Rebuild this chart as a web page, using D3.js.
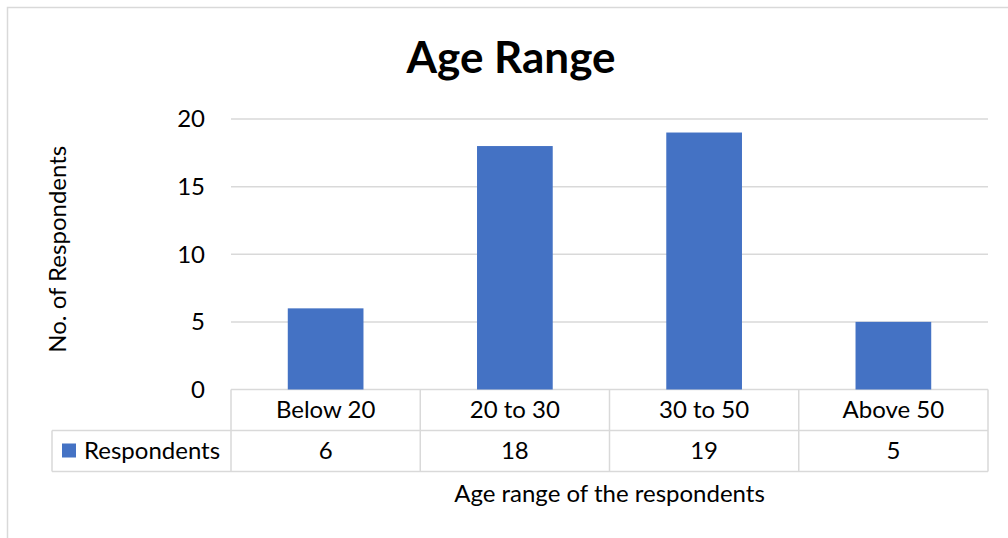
<!DOCTYPE html>
<html lang="en">
<head>
    <meta charset="UTF-8">
    <title>Age Range</title>
    <script src="https://d3js.org/d3.v7.min.js"></script>
    <style>
        body { margin: 0; background: #fff; }
        text { font-family: Lato, "Open Sans", sans-serif; fill: #000; }
    </style>
</head>
<body>
    <svg width="1008" height="538"></svg>

    <script>
        // chart data
        const categories = ["Below 20", "20 to 30", "30 to 50", "Above 50"];
        const respondents = [6, 18, 19, 5];
        const seriesName = "Respondents";
        const yTicks = [0, 5, 10, 15, 20];

        const width = 1008;
        const height = 538;
        const plot = {left: 231, right: 988, top: 119, bottom: 389.5};
        const rowH = 41;
        const tableLeft = 52;
        const gridColor = "#D9D9D9";
        const barColor = "#4472C4";
        const fontSize = "24px";

        const svg = d3.select("svg")
            .attr("width", width)
            .attr("height", height);

        // outer chart border (runs off the right and bottom edges)
        svg.append("rect")
            .attr("x", 7.5).attr("y", 7.5)
            .attr("width", 1010).attr("height", 540)
            .attr("fill", "none")
            .attr("stroke", gridColor)
            .attr("stroke-width", 1.5);

        // scales
        const x = d3.scaleBand()
            .domain(categories)
            .range([plot.left, plot.right])
            .paddingInner(0).paddingOuter(0);

        const y = d3.scaleLinear()
            .domain([0, 20])
            .range([plot.bottom, plot.top]);

        // gridlines
        svg.append("g")
            .selectAll("line")
            .data(yTicks)
            .join("line")
            .attr("x1", plot.left).attr("x2", plot.right)
            .attr("y1", d => y(d)).attr("y2", d => y(d))
            .attr("stroke", gridColor)
            .attr("stroke-width", 1.5);

        // y tick labels
        svg.append("g")
            .selectAll("text")
            .data(yTicks)
            .join("text")
            .attr("x", 205)
            .attr("y", d => y(d))
            .attr("dy", "0.35em")
            .attr("text-anchor", "end")
            .style("font-size", fontSize)
            .text(d => d);

        // bars
        const barW = x.bandwidth() * 0.4;
        svg.append("g")
            .selectAll("rect")
            .data(respondents)
            .join("rect")
            .attr("x", (d, i) => x(categories[i]) + (x.bandwidth() - barW) / 2)
            .attr("y", d => y(d))
            .attr("width", barW)
            .attr("height", d => y(0) - y(d))
            .attr("fill", barColor);

        // data table
        const table = svg.append("g")
            .attr("stroke", gridColor)
            .attr("stroke-width", 1.5)
            .attr("fill", "none");

        const row1Bottom = plot.bottom + rowH;
        const row2Bottom = row1Bottom + rowH;

        // horizontal lines
        table.append("line")
            .attr("x1", tableLeft).attr("x2", plot.right)
            .attr("y1", row1Bottom).attr("y2", row1Bottom);
        table.append("line")
            .attr("x1", tableLeft).attr("x2", plot.right)
            .attr("y1", row2Bottom).attr("y2", row2Bottom);
        table.append("line")
            .attr("x1", tableLeft).attr("x2", tableLeft)
            .attr("y1", row1Bottom).attr("y2", row2Bottom);

        // column boundaries
        const bounds = categories.map(c => x(c)).concat([plot.right]);
        table.selectAll("line.col")
            .data(bounds)
            .join("line")
            .attr("class", "col")
            .attr("x1", d => d).attr("x2", d => d)
            .attr("y1", plot.bottom).attr("y2", row2Bottom);

        // category labels
        svg.append("g")
            .selectAll("text")
            .data(categories)
            .join("text")
            .attr("x", d => x(d) + x.bandwidth() / 2)
            .attr("y", plot.bottom + rowH / 2)
            .attr("dy", "0.35em")
            .attr("text-anchor", "middle")
            .style("font-size", fontSize)
            .text(d => d);

        // value row
        svg.append("g")
            .selectAll("text")
            .data(respondents)
            .join("text")
            .attr("x", (d, i) => x(categories[i]) + x.bandwidth() / 2)
            .attr("y", row1Bottom + rowH / 2)
            .attr("dy", "0.35em")
            .attr("text-anchor", "middle")
            .style("font-size", fontSize)
            .text(d => d);

        // legend key in the table
        svg.append("rect")
            .attr("x", 62).attr("y", row1Bottom + 13)
            .attr("width", 14).attr("height", 14)
            .attr("fill", barColor);
        svg.append("text")
            .attr("x", 84)
            .attr("y", row1Bottom + rowH / 2)
            .attr("dy", "0.35em")
            .style("font-size", fontSize)
            .text(seriesName);

        // title
        svg.append("text")
            .attr("x", 511)
            .attr("y", 73)
            .attr("text-anchor", "middle")
            .style("font-size", "44px")
            .style("font-weight", "bold")
            .text("Age Range");

        // axis titles
        svg.append("text")
            .attr("transform", `translate(66,${(plot.top + plot.bottom) / 2 - 5}) rotate(-90)`)
            .attr("text-anchor", "middle")
            .style("font-size", fontSize)
            .text("No. of Respondents");

        svg.append("text")
            .attr("x", (plot.left + plot.right) / 2)
            .attr("y", 502)
            .attr("text-anchor", "middle")
            .style("font-size", fontSize)
            .text("Age range of the respondents");
    </script>
</body>
</html>
